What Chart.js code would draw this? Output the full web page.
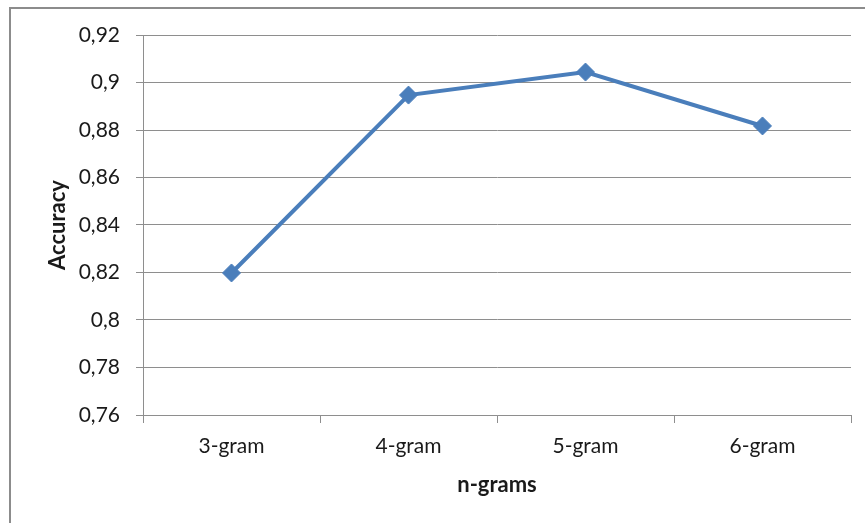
<!DOCTYPE html>
<html>
<head>
<meta charset="utf-8">
<script src="https://cdn.jsdelivr.net/npm/chart.js@4/dist/chart.umd.min.js"></script>
<style>
    html, body { margin: 0; padding: 0; background: #fff; overflow: hidden; }
    #wrap { position: relative; width: 865px; height: 523px; }
    #frame {
        position: absolute; left: 9px; top: 7px;
        width: 900px; height: 600px;
        border: 2px solid #8c8c8c;
        pointer-events: none;
    }
</style>
</head>
<body>
<div id="wrap">
    <canvas id="myChart" width="865" height="523"></canvas>
    <div id="frame"></div>
</div>
<script>
const categories = ["3-gram", "4-gram", "5-gram", "6-gram"];
const accuracy = [0.8198, 0.8947, 0.9044, 0.8817];
const yMin = 0.76, yMax = 0.92, yStep = 0.02;

const ctx = document.getElementById("myChart");
const gridGray = "#8e8e8e";
const textColor = "#1a1a1a";
const fontFamily = "Lato, 'Open Sans', sans-serif";

const chart = new Chart(ctx, {
    type: "line",
    data: {
        labels: categories,
        datasets: [
            {
                label: "Accuracy",
                data: accuracy,
                borderColor: "#4a7ebb",
                backgroundColor: "#4a7ebb",
                borderWidth: 4,
                pointStyle: "rectRot",
                pointRadius: 9,
                pointBorderWidth: 1,
                pointBackgroundColor: "#4a7ebb",
                pointBorderColor: "#4a7ebb",
                tension: 0,
                fill: false,
            },
        ],
    },
    options: {
        responsive: false,
        animation: false,
        layout: {
            padding: { left: 45, top: 35, right: 14, bottom: 25 },
        },
        scales: {
            x: {
                offset: true,
                grid: {
                    offset: true,
                    drawOnChartArea: false,
                    drawTicks: true,
                    tickLength: 8,
                    color: gridGray,
                },
                border: { color: gridGray, width: 1 },
                ticks: {
                    color: textColor,
                    padding: 11,
                    font: { family: fontFamily, size: 21 },
                },
                title: {
                    display: true,
                    text: "n-grams",
                    color: textColor,
                    padding: 0,
                    font: { family: fontFamily, size: 22, weight: "bold" },
                },
                afterFit: function (scale) {
                    scale.height = 83;
                },
            },
            y: {
                min: yMin,
                max: yMax,
                grid: {
                    color: gridGray,
                    tickLength: 7,
                },
                border: { color: gridGray, width: 1 },
                ticks: {
                    stepSize: yStep,
                    color: textColor,
                    padding: 16,
                    font: { family: fontFamily, size: 21 },
                    callback: function (value) {
                        return String(Number(value.toFixed(2))).replace(".", ",");
                    },
                },
                title: {
                    display: true,
                    text: "Accuracy",
                    color: textColor,
                    padding: 0,
                    font: { family: fontFamily, size: 22, weight: "bold" },
                },
                afterFit: function (scale) {
                    scale.width = 98;
                },
            },
        },
        plugins: {
            legend: { display: false },
            tooltip: { enabled: false },
        },
    },
});
</script>
</body>
</html>
